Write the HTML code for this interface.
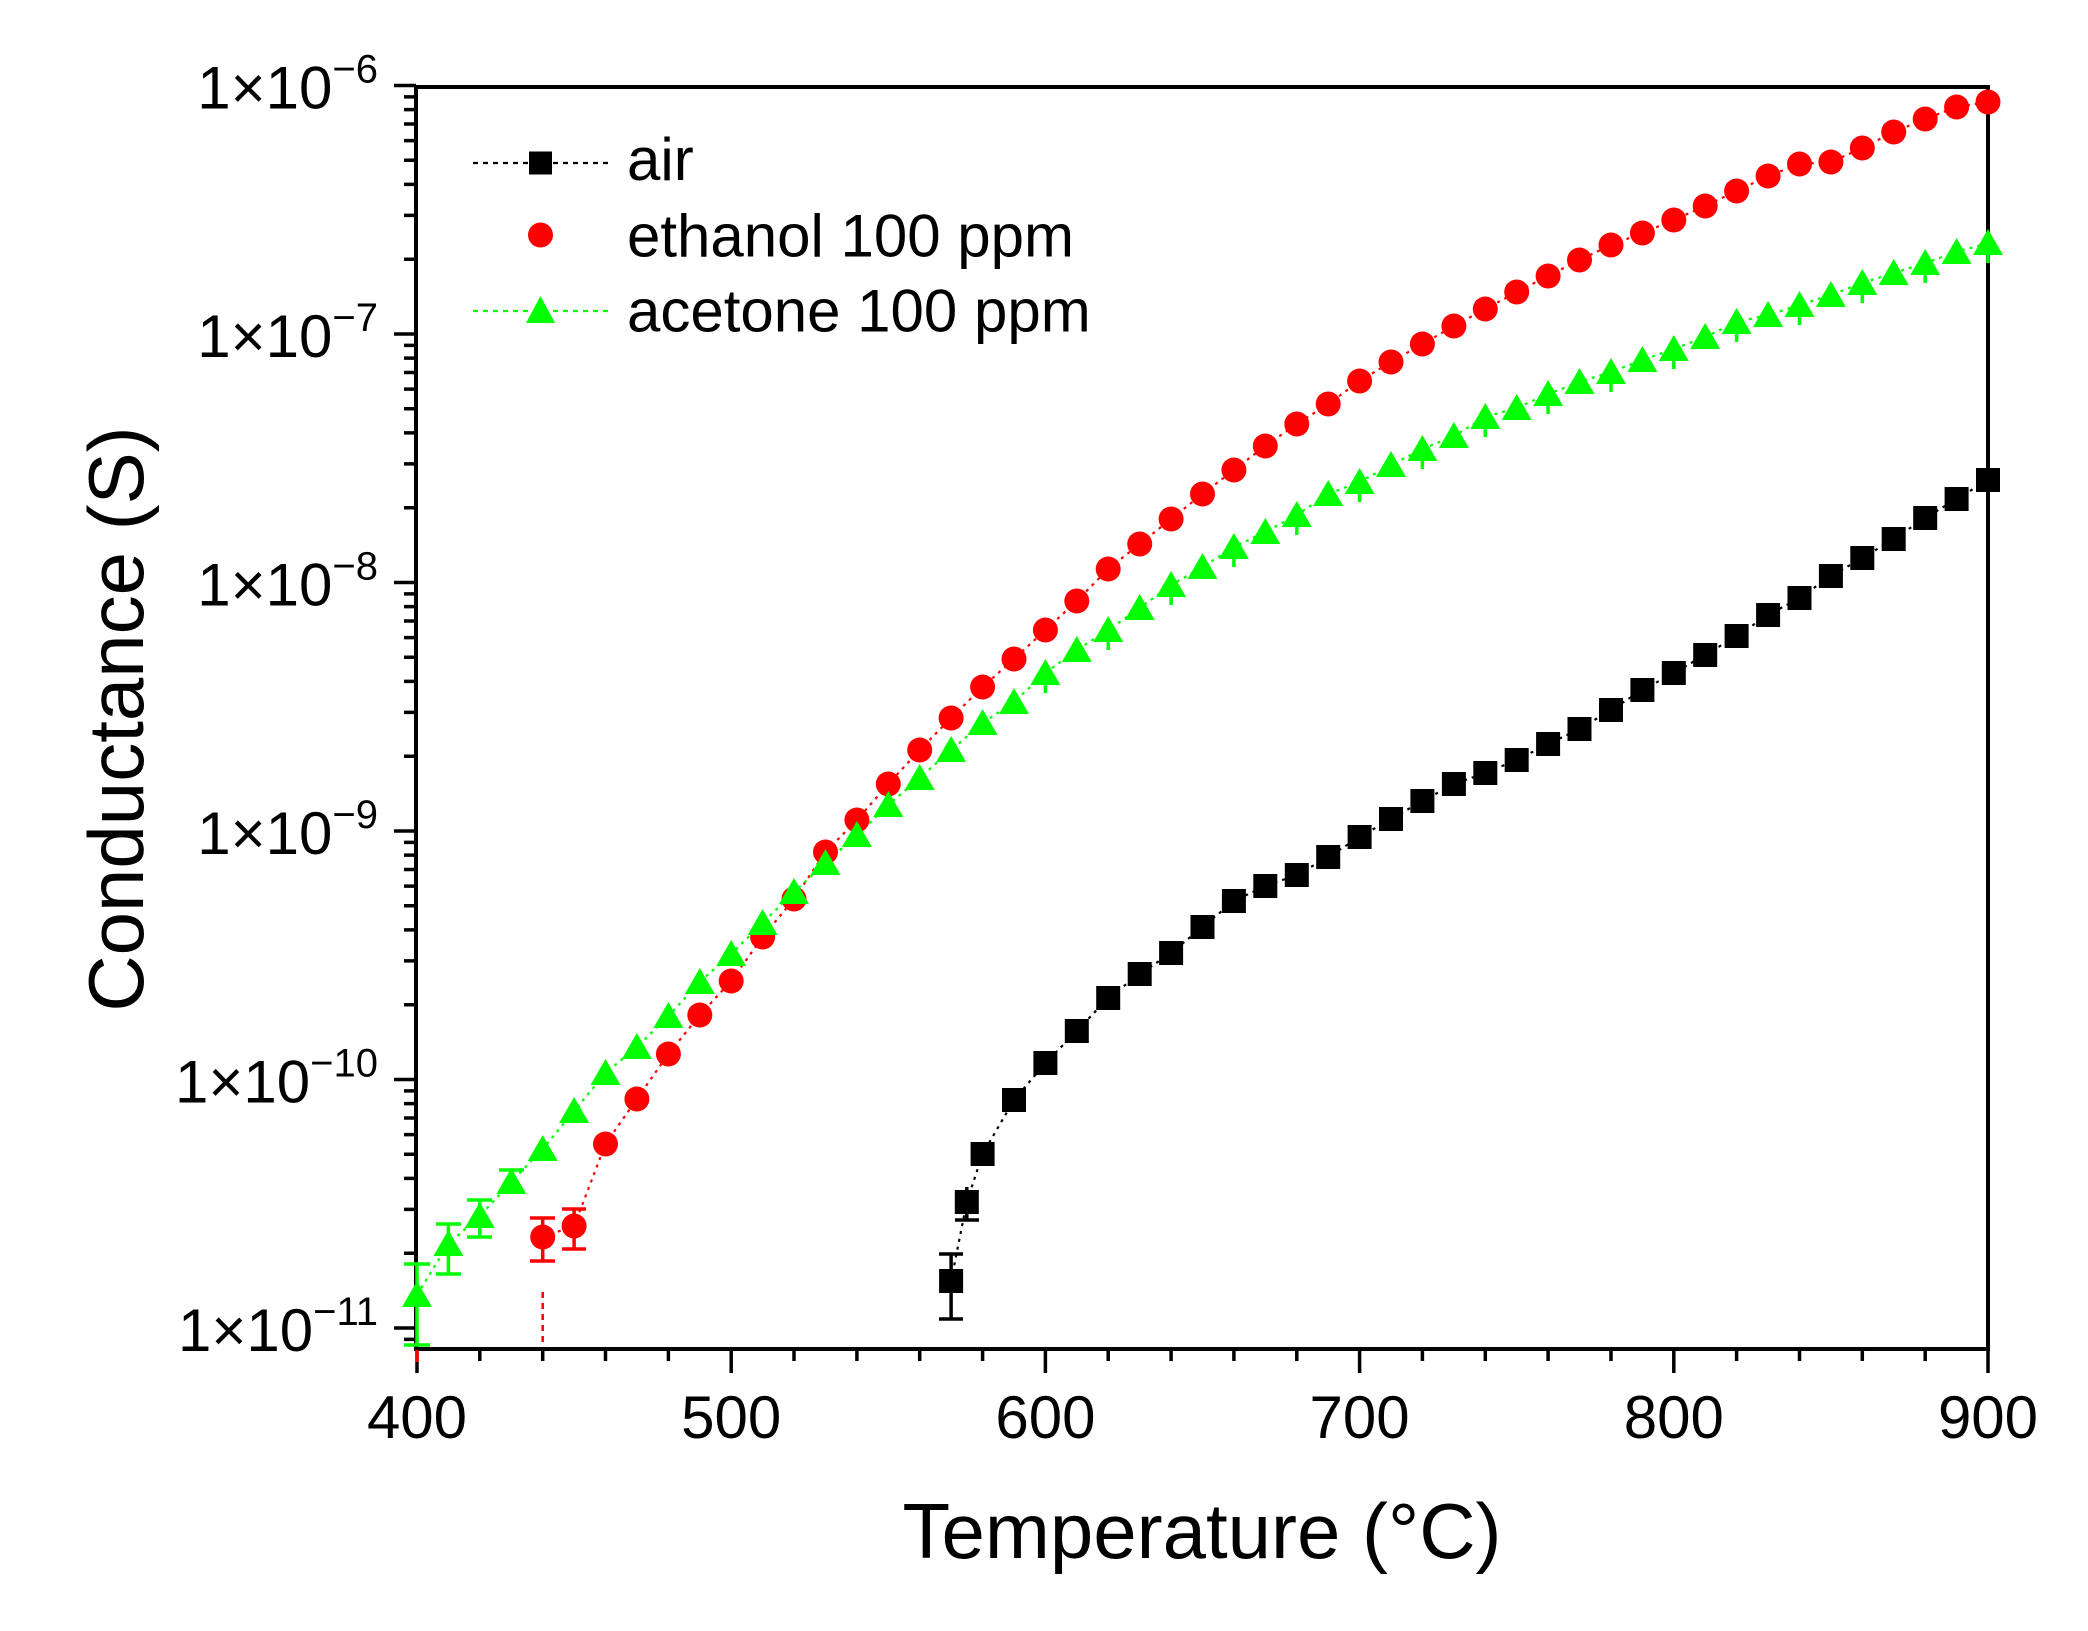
<!DOCTYPE html>
<html>
<head>
<meta charset="utf-8">
<style>
html,body{margin:0;padding:0;background:#fff;}
svg{display:block;}
text{font-family:"Liberation Sans",Arial,sans-serif;fill:#000;}
</style>
</head>
<body>
<svg width="2088" height="1631" viewBox="0 0 2088 1631" xmlns="http://www.w3.org/2000/svg">
<rect x="0" y="0" width="2088" height="1631" fill="#fff"/>

<g stroke="#000" stroke-width="4" fill="none" stroke-linecap="square">
  <line x1="416" y1="87" x2="1988" y2="87"/>
  <line x1="416" y1="87" x2="416" y2="1349"/>
  <line x1="1988" y1="87" x2="1988" y2="1349"/>
  <line x1="416" y1="1349" x2="1988" y2="1349"/>
</g>

<path stroke="#000" stroke-width="3.5" fill="none" d="
M394 85.5H416 M394 334H416 M394 582.5H416 M394 831H416 M394 1079.5H416 M394 1328H416
M404 1339.4H416
M404 1253.2H416 M404 1209.4H416 M404 1178.4H416 M404 1154.3H416 M404 1134.6H416 M404 1118H416 M404 1103.6H416 M404 1090.9H416
M404 1004.7H416 M404 960.9H416 M404 929.9H416 M404 905.8H416 M404 886.1H416 M404 869.5H416 M404 855.1H416 M404 842.4H416
M404 756.2H416 M404 712.4H416 M404 681.4H416 M404 657.3H416 M404 637.6H416 M404 621H416 M404 606.6H416 M404 593.9H416
M404 507.7H416 M404 463.9H416 M404 432.9H416 M404 408.8H416 M404 389.1H416 M404 372.5H416 M404 358.1H416 M404 345.4H416
M404 259.2H416 M404 215.4H416 M404 184.4H416 M404 160.3H416 M404 140.6H416 M404 124H416 M404 109.6H416 M404 96.9H416
"/>

<path stroke="#000" stroke-width="3.5" fill="none" d="
M417 1349V1373 M731.2 1349V1373 M1045.4 1349V1373 M1359.6 1349V1373 M1673.8 1349V1373 M1988 1349V1373
M479.8 1349V1361 M542.7 1349V1361 M605.5 1349V1361 M668.4 1349V1361
M794 1349V1361 M856.9 1349V1361 M919.7 1349V1361 M982.6 1349V1361
M1108.2 1349V1361 M1171.1 1349V1361 M1233.9 1349V1361 M1296.8 1349V1361
M1422.4 1349V1361 M1485.3 1349V1361 M1548.1 1349V1361 M1611 1349V1361
M1736.6 1349V1361 M1799.5 1349V1361 M1862.3 1349V1361 M1925.2 1349V1361
"/>
<line x1="417" y1="1350" x2="417" y2="1362" stroke="#ff0000" stroke-width="3.5"/>

<g font-size="60" text-anchor="end">
  <text x="378" y="108.5">1×10<tspan dy="-26" font-size="40">−6</tspan></text>
  <text x="378" y="357">1×10<tspan dy="-26" font-size="40">−7</tspan></text>
  <text x="378" y="605.5">1×10<tspan dy="-26" font-size="40">−8</tspan></text>
  <text x="378" y="854">1×10<tspan dy="-26" font-size="40">−9</tspan></text>
  <text x="378" y="1102.5">1×10<tspan dy="-26" font-size="40">−10</tspan></text>
  <text x="378" y="1351">1×10<tspan dy="-26" font-size="40">−11</tspan></text>
</g>

<g font-size="60" text-anchor="middle">
  <text x="417" y="1438">400</text>
  <text x="731.2" y="1438">500</text>
  <text x="1045.4" y="1438">600</text>
  <text x="1359.6" y="1438">700</text>
  <text x="1673.8" y="1438">800</text>
  <text x="1988" y="1438">900</text>
</g>

<text x="1202" y="1558" font-size="78" text-anchor="middle">Temperature (°C)</text>
<text transform="translate(143,719) rotate(-90)" font-size="78" text-anchor="middle">Conductance (S)</text>

<polyline fill="none" stroke="#000" stroke-width="2.2" stroke-dasharray="3 5" points="951.1,1281 966.8,1202 982.6,1154 1014,1100 1045.4,1063 1076.8,1031 1108.2,998 1139.7,974 1171.1,953 1202.5,927 1233.9,901 1265.3,886 1296.8,875 1328.2,857 1359.6,837 1391,819 1422.4,801 1453.9,784 1485.3,773 1516.7,760 1548.1,744 1579.5,729 1611,710 1642.4,690 1673.8,673 1705.2,655 1736.6,636 1768.1,615 1799.5,598 1830.9,576 1862.3,558 1893.7,539 1925.2,518 1956.6,499 1988,480"/>
<polyline fill="none" stroke="#ff0000" stroke-width="2.2" stroke-dasharray="3 5" points="542.7,1237 574.1,1226 605.5,1144 636.9,1099 668.4,1054 699.8,1015 731.2,981 762.6,937 794,899 825.5,852 856.9,820 888.3,784 919.7,750 951.1,718 982.6,687 1014,659 1045.4,630 1076.8,601 1108.2,569 1139.7,544 1171.1,519 1202.5,494 1233.9,470 1265.3,446 1296.8,424 1328.2,404 1359.6,381 1391,362 1422.4,344 1453.9,326 1485.3,309 1516.7,292 1548.1,276 1579.5,260 1611,245 1642.4,233 1673.8,220 1705.2,206 1736.6,191 1768.1,176 1799.5,164 1830.9,162 1862.3,148 1893.7,132 1925.2,119 1956.6,107 1988,102"/>
<polyline fill="none" stroke="#00ff00" stroke-width="2.2" stroke-dasharray="3 5" points="417,1295 448.4,1244 479.8,1216 511.3,1182 542.7,1149 574.1,1111 605.5,1073 636.9,1047 668.4,1016 699.8,982 731.2,954 762.6,923 794,892 825.5,863 856.9,835 888.3,805 919.7,778 951.1,750 982.6,723 1014,702 1045.4,673 1076.8,650 1108.2,630 1139.7,608 1171.1,585 1202.5,567 1233.9,547 1265.3,532 1296.8,515 1328.2,494 1359.6,482 1391,465 1422.4,449 1453.9,436 1485.3,417 1516.7,408 1548.1,394 1579.5,382 1611,372 1642.4,360 1673.8,349 1705.2,337 1736.6,322 1768.1,315 1799.5,305 1830.9,295 1862.3,283 1893.7,273 1925.2,263 1956.6,252 1988,243"/>

<g stroke="#000" stroke-width="3.5" fill="none">
  <path d="M951.1 1254V1319 M939 1254H963 M939 1319H963"/>
  <path d="M966.8 1187V1220 M955 1220H979"/>
</g>
<g stroke="#ff0000" stroke-width="3.5" fill="none">
  <path d="M542.7 1218V1261 M530 1218H555 M530 1261H555"/>
  <path d="M574.1 1209V1249 M562 1209H586 M562 1249H586"/>
</g>
<line x1="542.7" y1="1292" x2="542.7" y2="1346" stroke="#ff0000" stroke-width="2.5" stroke-dasharray="6 5"/>
<g stroke="#00ff00" stroke-width="3.5" fill="none">
  <path d="M417 1264V1345 M404 1264H430 M404 1345H430"/>
  <path d="M448.4 1224V1274 M436 1224H461 M436 1274H461"/>
  <path d="M479.8 1200V1237 M467 1200H492 M467 1237H492"/>
  <path d="M511.3 1170V1192 M499 1170H524 M499 1192H524"/>
  <path d="M1171.1 575V605 M1233.9 537V567 M1296.8 505V535 M1359.6 472V502 M1422.4 439V469 M1485.3 407V437 M1548.1 384V414 M1611 362V392 M1673.8 339V369 M1736.6 312V342 M1799.5 295V325 M1862.3 273V303 M1925.2 253V283 M1988 233V263 M1108.2 620V650 M1045.4 663V693"/>
</g>

<g fill="#000">
  <rect x="939.1" y="1269" width="24" height="24"/>
  <rect x="954.8" y="1190" width="24" height="24"/>
  <rect x="970.6" y="1142" width="24" height="24"/>
  <rect x="1002" y="1088" width="24" height="24"/>
  <rect x="1033.4" y="1051" width="24" height="24"/>
  <rect x="1064.8" y="1019" width="24" height="24"/>
  <rect x="1096.2" y="986" width="24" height="24"/>
  <rect x="1127.7" y="962" width="24" height="24"/>
  <rect x="1159.1" y="941" width="24" height="24"/>
  <rect x="1190.5" y="915" width="24" height="24"/>
  <rect x="1221.9" y="889" width="24" height="24"/>
  <rect x="1253.3" y="874" width="24" height="24"/>
  <rect x="1284.8" y="863" width="24" height="24"/>
  <rect x="1316.2" y="845" width="24" height="24"/>
  <rect x="1347.6" y="825" width="24" height="24"/>
  <rect x="1379" y="807" width="24" height="24"/>
  <rect x="1410.4" y="789" width="24" height="24"/>
  <rect x="1441.9" y="772" width="24" height="24"/>
  <rect x="1473.3" y="761" width="24" height="24"/>
  <rect x="1504.7" y="748" width="24" height="24"/>
  <rect x="1536.1" y="732" width="24" height="24"/>
  <rect x="1567.5" y="717" width="24" height="24"/>
  <rect x="1599" y="698" width="24" height="24"/>
  <rect x="1630.4" y="678" width="24" height="24"/>
  <rect x="1661.8" y="661" width="24" height="24"/>
  <rect x="1693.2" y="643" width="24" height="24"/>
  <rect x="1724.6" y="624" width="24" height="24"/>
  <rect x="1756.1" y="603" width="24" height="24"/>
  <rect x="1787.5" y="586" width="24" height="24"/>
  <rect x="1818.9" y="564" width="24" height="24"/>
  <rect x="1850.3" y="546" width="24" height="24"/>
  <rect x="1881.7" y="527" width="24" height="24"/>
  <rect x="1913.2" y="506" width="24" height="24"/>
  <rect x="1944.6" y="487" width="24" height="24"/>
  <rect x="1976" y="468" width="24" height="24"/>
</g>

<g fill="#ff0000">
  <circle cx="542.7" cy="1237" r="12.5"/>
  <circle cx="574.1" cy="1226" r="12.5"/>
  <circle cx="605.5" cy="1144" r="12.5"/>
  <circle cx="636.9" cy="1099" r="12.5"/>
  <circle cx="668.4" cy="1054" r="12.5"/>
  <circle cx="699.8" cy="1015" r="12.5"/>
  <circle cx="731.2" cy="981" r="12.5"/>
  <circle cx="762.6" cy="937" r="12.5"/>
  <circle cx="794" cy="899" r="12.5"/>
  <circle cx="825.5" cy="852" r="12.5"/>
  <circle cx="856.9" cy="820" r="12.5"/>
  <circle cx="888.3" cy="784" r="12.5"/>
  <circle cx="919.7" cy="750" r="12.5"/>
  <circle cx="951.1" cy="718" r="12.5"/>
  <circle cx="982.6" cy="687" r="12.5"/>
  <circle cx="1014" cy="659" r="12.5"/>
  <circle cx="1045.4" cy="630" r="12.5"/>
  <circle cx="1076.8" cy="601" r="12.5"/>
  <circle cx="1108.2" cy="569" r="12.5"/>
  <circle cx="1139.7" cy="544" r="12.5"/>
  <circle cx="1171.1" cy="519" r="12.5"/>
  <circle cx="1202.5" cy="494" r="12.5"/>
  <circle cx="1233.9" cy="470" r="12.5"/>
  <circle cx="1265.3" cy="446" r="12.5"/>
  <circle cx="1296.8" cy="424" r="12.5"/>
  <circle cx="1328.2" cy="404" r="12.5"/>
  <circle cx="1359.6" cy="381" r="12.5"/>
  <circle cx="1391" cy="362" r="12.5"/>
  <circle cx="1422.4" cy="344" r="12.5"/>
  <circle cx="1453.9" cy="326" r="12.5"/>
  <circle cx="1485.3" cy="309" r="12.5"/>
  <circle cx="1516.7" cy="292" r="12.5"/>
  <circle cx="1548.1" cy="276" r="12.5"/>
  <circle cx="1579.5" cy="260" r="12.5"/>
  <circle cx="1611" cy="245" r="12.5"/>
  <circle cx="1642.4" cy="233" r="12.5"/>
  <circle cx="1673.8" cy="220" r="12.5"/>
  <circle cx="1705.2" cy="206" r="12.5"/>
  <circle cx="1736.6" cy="191" r="12.5"/>
  <circle cx="1768.1" cy="176" r="12.5"/>
  <circle cx="1799.5" cy="164" r="12.5"/>
  <circle cx="1830.9" cy="162" r="12.5"/>
  <circle cx="1862.3" cy="148" r="12.5"/>
  <circle cx="1893.7" cy="132" r="12.5"/>
  <circle cx="1925.2" cy="119" r="12.5"/>
  <circle cx="1956.6" cy="107" r="12.5"/>
  <circle cx="1988" cy="102" r="12.5"/>
</g>

<g fill="#00ff00">
  <polygon points="417,1281 402,1307 432,1307"/>
  <polygon points="448.4,1230 433.4,1256 463.4,1256"/>
  <polygon points="479.8,1202 464.8,1228 494.8,1228"/>
  <polygon points="511.3,1168 496.3,1194 526.3,1194"/>
  <polygon points="542.7,1135 527.7,1161 557.7,1161"/>
  <polygon points="574.1,1097 559.1,1123 589.1,1123"/>
  <polygon points="605.5,1059 590.5,1085 620.5,1085"/>
  <polygon points="636.9,1033 621.9,1059 651.9,1059"/>
  <polygon points="668.4,1002 653.4,1028 683.4,1028"/>
  <polygon points="699.8,968 684.8,994 714.8,994"/>
  <polygon points="731.2,940 716.2,966 746.2,966"/>
  <polygon points="762.6,909 747.6,935 777.6,935"/>
  <polygon points="794,878 779,904 809,904"/>
  <polygon points="825.5,849 810.5,875 840.5,875"/>
  <polygon points="856.9,821 841.9,847 871.9,847"/>
  <polygon points="888.3,791 873.3,817 903.3,817"/>
  <polygon points="919.7,764 904.7,790 934.7,790"/>
  <polygon points="951.1,736 936.1,762 966.1,762"/>
  <polygon points="982.6,709 967.6,735 997.6,735"/>
  <polygon points="1014,688 999,714 1029,714"/>
  <polygon points="1045.4,659 1030.4,685 1060.4,685"/>
  <polygon points="1076.8,636 1061.8,662 1091.8,662"/>
  <polygon points="1108.2,616 1093.2,642 1123.2,642"/>
  <polygon points="1139.7,594 1124.7,620 1154.7,620"/>
  <polygon points="1171.1,571 1156.1,597 1186.1,597"/>
  <polygon points="1202.5,553 1187.5,579 1217.5,579"/>
  <polygon points="1233.9,533 1218.9,559 1248.9,559"/>
  <polygon points="1265.3,518 1250.3,544 1280.3,544"/>
  <polygon points="1296.8,501 1281.8,527 1311.8,527"/>
  <polygon points="1328.2,480 1313.2,506 1343.2,506"/>
  <polygon points="1359.6,468 1344.6,494 1374.6,494"/>
  <polygon points="1391,451 1376,477 1406,477"/>
  <polygon points="1422.4,435 1407.4,461 1437.4,461"/>
  <polygon points="1453.9,422 1438.9,448 1468.9,448"/>
  <polygon points="1485.3,403 1470.3,429 1500.3,429"/>
  <polygon points="1516.7,394 1501.7,420 1531.7,420"/>
  <polygon points="1548.1,380 1533.1,406 1563.1,406"/>
  <polygon points="1579.5,368 1564.5,394 1594.5,394"/>
  <polygon points="1611,358 1596,384 1626,384"/>
  <polygon points="1642.4,346 1627.4,372 1657.4,372"/>
  <polygon points="1673.8,335 1658.8,361 1688.8,361"/>
  <polygon points="1705.2,323 1690.2,349 1720.2,349"/>
  <polygon points="1736.6,308 1721.6,334 1751.6,334"/>
  <polygon points="1768.1,301 1753.1,327 1783.1,327"/>
  <polygon points="1799.5,291 1784.5,317 1814.5,317"/>
  <polygon points="1830.9,281 1815.9,307 1845.9,307"/>
  <polygon points="1862.3,269 1847.3,295 1877.3,295"/>
  <polygon points="1893.7,259 1878.7,285 1908.7,285"/>
  <polygon points="1925.2,249 1910.2,275 1940.2,275"/>
  <polygon points="1956.6,238 1941.6,264 1971.6,264"/>
  <polygon points="1988,229 1973,255 2003,255"/>
</g>

<line x1="473" y1="163" x2="608" y2="163" stroke="#000" stroke-width="2.2" stroke-dasharray="5 5"/>
<rect x="529" y="151.5" width="23" height="23" fill="#000"/>
<circle cx="540.5" cy="235" r="12.5" fill="#ff0000"/>
<line x1="473" y1="311" x2="608" y2="311" stroke="#00ff00" stroke-width="2.2" stroke-dasharray="5 5"/>
<polygon points="540.5,296 526,323 555,323" fill="#00ff00"/>
<g font-size="60">
  <text x="627" y="180">air</text>
  <text x="627" y="256.7">ethanol 100 ppm</text>
  <text x="627" y="331.7">acetone 100 ppm</text>
</g>
</svg>
</body>
</html>
